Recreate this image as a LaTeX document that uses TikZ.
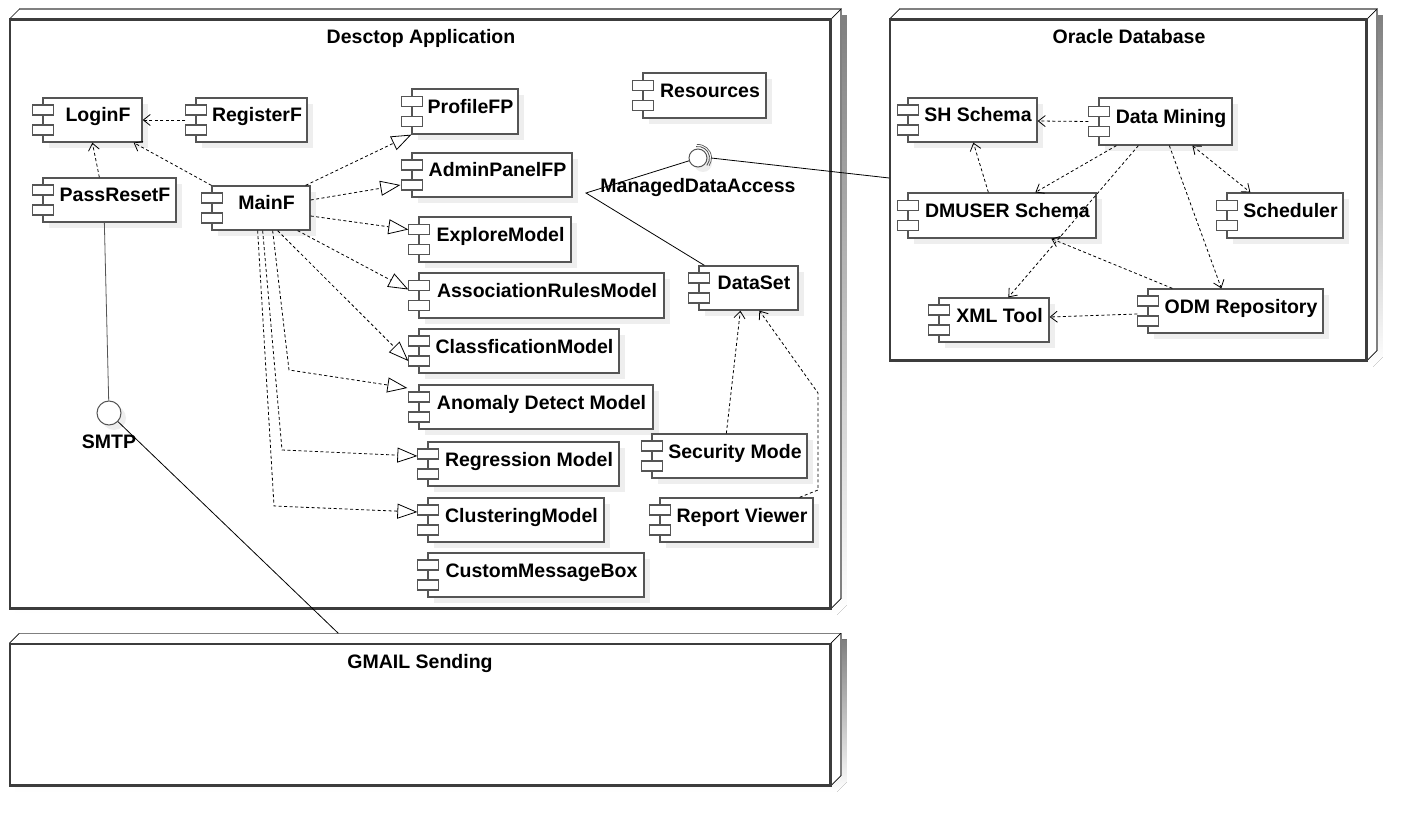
\documentclass[tikz,border=0pt]{standalone}
\usepackage{fontspec}
\setmainfont{Liberation Sans}
\usetikzlibrary{arrows.meta,shadows,backgrounds,calc}
\definecolor{frontline}{RGB}{60,60,60}
\definecolor{backline}{RGB}{128,128,128}
\definecolor{compline}{RGB}{85,85,85}
\definecolor{shade}{RGB}{238,238,238}
\tikzset{
  comp/.style={draw=compline, line width=1.3pt, fill=white, inner sep=0pt,
    text height=14pt, text depth=10pt,
    font=\bfseries\fontsize{19.5}{22}\selectfont,
    drop shadow={shadow xshift=6pt, shadow yshift=-6pt, opacity=1, fill=shade}},
  port/.style={draw=compline, line width=1.3pt, fill=white},
  titletext/.style={inner sep=0pt, font=\bfseries\fontsize{19.5}{22}\selectfont},
  nodebox/.style={draw=frontline, line width=1.5pt, fill=white, inner sep=0pt},
  dep/.style={line width=0.8pt, dash pattern=on 3pt off 2.5pt, -{Straight Barb[length=7pt,width=11pt]}},
  bidep/.style={line width=0.8pt, dash pattern=on 3pt off 2.5pt, {Straight Barb[length=7pt,width=11pt]}-{Straight Barb[length=7pt,width=11pt]}},
  real/.style={line width=0.8pt, dash pattern=on 3pt off 2.5pt, -{Triangle[open,length=20pt,width=15pt]}},
  wire/.style={line width=0.8pt},
  ball/.style={circle, draw=compline, line width=1pt, fill=white, inner sep=0pt,
    drop shadow={shadow xshift=5pt, shadow yshift=-5pt, opacity=1, fill=shade}}
}
\newcommand\umlcomp[6]{%
  \node[comp, minimum width={(#4-#2)*1pt}, minimum height={(#5-#3)*1pt}] (#1) at ({(#2+#4)/2},{(#3+#5)/2}) {\hspace*{11pt}#6};
  \draw[port] ([xshift=-10pt,yshift=15pt]#1.west) rectangle ([xshift=11pt,yshift=5pt]#1.west);
  \draw[port] ([xshift=-10pt,yshift=-5pt]#1.west) rectangle ([xshift=11pt,yshift=-15pt]#1.west);
}
\newcommand\threeDfaces[1]{%
  \fill[white] (#1.north west) -- ([shift={(10,-10)}]#1.north west) -- ([shift={(10,-10)}]#1.north east) -- ([shift={(10,-10)}]#1.south east) -- (#1.south east) -- (#1.north east) -- cycle;
  \draw[backline, line width=1.5pt] ([shift={(10,-10)}]#1.north west) -- ([shift={(10,-10)}]#1.north east) -- ([shift={(10,-10)}]#1.south east);
  \draw[line width=0.7pt] (#1.north west) -- ++(10,-10) (#1.north east) -- ++(10,-10) (#1.south east) -- ++(10,-10);
  \draw[frontline, line width=1.5pt] (#1.north west) rectangle (#1.south east);
}
\newcommand\threeDshadow[1]{%
  \fill[shade] ([shift={(6,6)}]#1.north west) -- ([shift={(16,-4)}]#1.north west) -- ([shift={(16,-4)}]#1.north east) -- ([shift={(16,-4)}]#1.south east) -- ([shift={(6,6)}]#1.south east) -- ([shift={(6,6)}]#1.south west) -- cycle;
}
\begin{document}
\begin{tikzpicture}[x=1pt,y=-1pt]
\useasboundingbox (0,0) rectangle (1418,826);

% deployment nodes
\node[nodebox, minimum width=820pt, minimum height=588pt] (Desktop) at (420,314) {};
\node[nodebox, minimum width=476pt, minimum height=340pt] (Oracle) at (1128,190) {};
\node[nodebox, minimum width=820pt, minimum height=141pt] (Gmail) at (420,714.5) {};
\threeDfaces{Desktop}
\threeDfaces{Oracle}
\threeDfaces{Gmail}
\begin{scope}[on background layer]
  \fill[white] (0,0) rectangle (1418,826);
  \threeDshadow{Desktop}
  \threeDshadow{Oracle}
  \threeDshadow{Gmail}
\end{scope}

\node[titletext, anchor=base] (tDesktop) at (421,44) {Desctop Application};
\node[titletext, anchor=base] (tOracle) at (1129,44) {Oracle Database};
\node[titletext, anchor=base] (tGmail) at (420,668) {GMAIL Sending};

% desktop components
\umlcomp{LoginF}{43}{98}{142}{142}{LoginF}
\umlcomp{RegisterF}{196}{98}{307}{142}{RegisterF}
\umlcomp{PassResetF}{43}{178}{176}{222}{PassResetF}
\umlcomp{MainF}{212}{186}{310}{230}{MainF}
\umlcomp{ProfileFP}{412}{89}{518}{134}{ProfileFP}
\umlcomp{AdminPanelFP}{412}{153}{572}{197}{AdminPanelFP}
\umlcomp{ExploreModel}{419}{217}{571}{262}{ExploreModel}
\umlcomp{AssocRules}{419}{273}{664}{318}{AssociationRulesModel}
\umlcomp{Classf}{419}{329}{619}{373}{ClassficationModel}
\umlcomp{Anomaly}{419}{385}{653}{429}{Anomaly Detect Model}
\umlcomp{Regression}{428}{442}{619}{486}{Regression Model}
\umlcomp{Clustering}{428}{498}{604}{542}{ClusteringModel}
\umlcomp{CustomMsg}{428}{553}{644}{597}{CustomMessageBox}
\umlcomp{Resources}{643}{73}{766}{118}{Resources}
\umlcomp{DataSet}{699}{266}{798}{310}{DataSet}
\umlcomp{SecMode}{652}{434}{807}{478}{Security Mode}
\umlcomp{ReportViewer}{660}{498}{813}{542}{Report Viewer}

% oracle components
\umlcomp{SHSchema}{908}{98}{1037}{142}{SH Schema}
\umlcomp{DataMining}{1099}{98}{1232}{145}{Data Mining}
\umlcomp{DMUSER}{908}{193}{1096}{238}{DMUSER Schema}
\umlcomp{Scheduler}{1227}{193}{1343}{238}{Scheduler}
\umlcomp{XMLTool}{939}{298}{1049}{342}{XML Tool}
\umlcomp{ODM}{1148}{289}{1323}{333}{ODM Repository}

% interfaces
\node[ball, minimum size=24pt] (SMTP) at (109,413) {};
\node[titletext, anchor=base] (SMTPlabel) at (109,448) {SMTP};
\node[ball, minimum size=18pt] (MDA) at (698,158) {};
\draw[compline, line width=0.9pt] ([shift={(-100:11.5)}]MDA.center) arc[start angle=-100, end angle=40, radius=11.5];
\draw[compline, line width=0.7pt] ([shift={(-95:13.5)}]MDA.center) arc[start angle=-95, end angle=35, radius=13.5];
\node[titletext, anchor=base] (MDAlabel) at (698,193) {ManagedDataAccess};

% helper coordinates
\coordinate (mdaV) at (586,193);
\coordinate (gmailTop) at ([xshift=329pt,yshift=10pt]Gmail.north west);
\coordinate (bA) at (289,370);
\coordinate (bR) at (282,450);
\coordinate (bC) at (274,506);
\coordinate (rv1) at (818,490);
\coordinate (rv2) at (818,393);

% solid wires
\draw[wire, compline] ([xshift=62pt]PassResetF.south west) -- (SMTP);
\draw[wire] (SMTP) -- (gmailTop);
\draw[wire] (MDA) -- (mdaV) -- ([xshift=6pt]DataSet.north west);
\draw[wire] ([xshift=13pt]MDA.center) -- ([yshift=12pt]Oracle.west);

% dependencies in desktop
\draw[dep] ([xshift=-10pt]RegisterF.west) -- (LoginF.east);
\draw[dep] ([xshift=57pt]PassResetF.north west) -- ([xshift=50pt]LoginF.south west);
\draw[dep] (MainF.north west) -- ([xshift=-9pt]LoginF.south east);
\draw[dep] ([xshift=75pt]SecMode.north west) -- ([xshift=42pt]DataSet.south west);
\draw[dep] ([xshift=-14pt]ReportViewer.north east) -- (rv1) -- (rv2) -- ([xshift=61pt]DataSet.south west);

% realizations from MainF
\draw[real] ([xshift=-5pt]MainF.north east) -- (ProfileFP.south west);
\draw[real] ([yshift=8pt]MainF.east) -- ([xshift=-11pt,yshift=-10pt]AdminPanelFP.west);
\draw[real] ([yshift=-8pt]MainF.east) -- ([xshift=-10pt,yshift=10pt]ExploreModel.west);
\draw[real] ([xshift=-13pt]MainF.south east) -- ([xshift=-10pt,yshift=6pt]AssocRules.west);
\draw[real] ([xshift=-33pt]MainF.south east) -- ([xshift=-10pt,yshift=-10pt]Classf.west);
\draw[real] ([xshift=-38pt]MainF.south east) -- (bA) -- ([xshift=-11pt,yshift=19pt]Anomaly.west);
\draw[real] ([xshift=-48pt]MainF.south east) -- (bR) -- ([xshift=-10pt,yshift=8pt]Regression.west);
\draw[real] ([xshift=-53pt]MainF.south east) -- (bC) -- ([xshift=-10pt,yshift=8pt]Clustering.west);

% oracle dependencies
\draw[dep] ([xshift=-10pt]DataMining.west) -- ([yshift=-1pt]SHSchema.east);
\draw[dep] ([xshift=81pt]DMUSER.north west) -- ([xshift=66pt]SHSchema.south west);
\draw[dep] ([xshift=18pt]DataMining.south west) -- ([xshift=128pt]DMUSER.north west);
\draw[dep] ([xshift=40pt]DataMining.south west) -- ([xshift=70pt]XMLTool.north west);
\draw[dep] ([xshift=71pt]DataMining.south west) -- ([xshift=74pt]ODM.north west);
\draw[bidep] ([xshift=94pt]DataMining.south west) -- ([xshift=24pt]Scheduler.north west);
\draw[dep] ([xshift=25pt]ODM.north west) -- ([xshift=144pt]DMUSER.south west);
\draw[dep] ([xshift=-10pt,yshift=-3pt]ODM.west) -- ([yshift=3pt]XMLTool.east);
\end{tikzpicture}
\end{document}
